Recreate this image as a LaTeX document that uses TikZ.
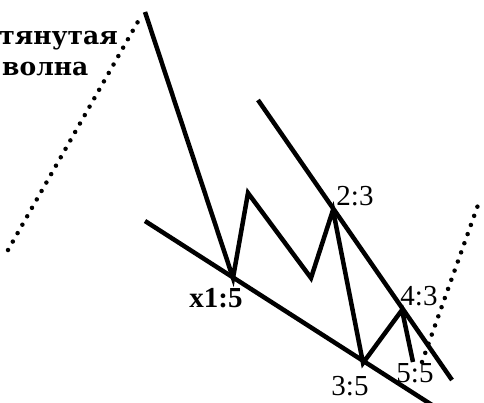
\documentclass[tikz,border=0pt]{standalone}
\usepackage{fontspec}
\setmainfont{Liberation Serif}
\newfontfamily\cyrbold{DejaVu Serif}
\begin{document}
\begin{tikzpicture}[x=1pt,y=-1pt,
  wave/.style={line width=4.5pt,line join=miter,line cap=butt},
  chan/.style={line width=4.5pt},
  dots/.style={line width=4.5pt,line cap=round,dash pattern=on 0pt off 9.7pt},
  lbl/.style={font=\fontsize{29}{29}\selectfont,inner sep=0pt},
  ttl/.style={font=\cyrbold\bfseries\fontsize{25}{25}\selectfont,inner sep=0pt}]
\useasboundingbox (0,0) rectangle (484,403);
% wave points
\coordinate (w0) at (145,12);
\coordinate (w1) at (233,278);
\coordinate (w2) at (248,193);
\coordinate (w3) at (311,278);
\coordinate (w4) at (333,210);
\coordinate (w5) at (363,363);
\coordinate (w6) at (402,310);
\coordinate (w7) at (413,362);
% channel
\coordinate (u0) at (258,100);
\coordinate (u1) at (452,380);
\coordinate (l0) at (145,221);
\coordinate (l1) at (432,405);
% dotted
\coordinate (d0) at (8,250);
\coordinate (d1) at (140,18);
\coordinate (e0) at (422,362);
\coordinate (e1) at (478,205);
\draw[dots] (d0) -- (d1);
\draw[dots] (e0) -- (e1);
\draw[chan] (u0) -- (u1);
\draw[chan] (l0) -- (l1);
\draw[wave] (w0) -- (w1) -- (w2) -- (w3) -- (w4) -- (w5) -- (w6) -- (w7);
% labels
\node[lbl,font=\bfseries\fontsize{29}{29}\selectfont] (a) at (216,298) {x1:5};
\node[lbl] (b) at (355,196) {2:3};
\node[lbl] (c) at (350,386) {3:5};
\node[lbl] (d) at (419,296) {4:3};
\node[lbl] (e) at (415,373) {5:5};
\node[ttl,anchor=base east] (t1) at (118,45) {тянутая};
\node[ttl,anchor=base west] (t2) at (2,76) {волна};
\end{tikzpicture}
\end{document}
